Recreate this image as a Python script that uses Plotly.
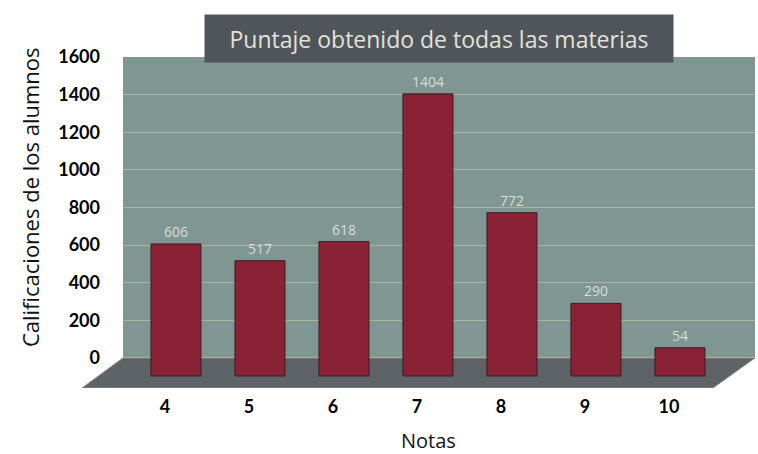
import plotly.graph_objects as go

# ---- data ----
notas = ["4", "5", "6", "7", "8", "9", "10"]
calificaciones = [606, 517, 618, 1404, 772, 290, 54]
y_ticks = [0, 200, 400, 600, 800, 1000, 1200, 1400, 1600]

title_text = "Puntaje obtenido de todas las materias"
y_title = "Calificaciones de los alumnos"
x_title = "Notas"

# ---- style constants ----
FLOOR = -160          # depth of the pseudo-3D floor (axis units)
FOOT = 96             # how far bars reach into the floor
WALL = "#7f9692"
FLOOR_C = "#5e6367"
BAR = "#8a2236"

fig = go.Figure()
fig.add_trace(go.Bar(
    x=notas,
    y=[v + FOOT for v in calificaciones],
    base=[-FOOT] * len(notas),
    width=0.595,
    offset=-0.167,
    marker=dict(color=BAR, line=dict(color="#3a1c22", width=1)),
    text=[str(v) for v in calificaciones],
    textposition="outside",
    textfont=dict(family="Open Sans", size=14, color="#d9ddd6"),
    cliponaxis=False,
    hovertext=[str(v) for v in calificaciones],
    hoverinfo="x+text",
))

shapes = [
    # back wall
    dict(type="rect", xref="paper", yref="y", x0=0, x1=1, y0=0, y1=y_ticks[-1],
         fillcolor=WALL, line=dict(width=0), layer="below"),
    # floor
    dict(type="path", xref="paper", yref="y",
         path=f"M 0 0 L 1 0 L 0.9335 {FLOOR} L -0.0649 {FLOOR} Z",
         fillcolor=FLOOR_C, line=dict(color="#8a8a80", width=1), layer="below"),
]

annotations = [
    dict(text=title_text, xref="paper", yref="paper", x=0.5, y=1.0574,
         xanchor="center", yanchor="middle", showarrow=False,
         font=dict(family="Open Sans", size=23, color="#e2e2d8"),
         bgcolor="#50555b", width=464, height=43, borderpad=2),
    dict(text=y_title, xref="paper", yref="paper", x=-0.147, y=0.577,
         xanchor="center", yanchor="middle", textangle=-90, showarrow=False,
         font=dict(family="Open Sans", size=22, color="#111111")),
    dict(text=x_title, xref="paper", yref="paper", x=0.4826, y=-0.160,
         xanchor="center", yanchor="middle", showarrow=False,
         font=dict(family="Open Sans", size=20, color="#111111")),
]

fig.update_layout(
    width=758, height=454,
    margin=dict(l=123, r=3, t=57, b=66),
    paper_bgcolor="white",
    plot_bgcolor="white",
    showlegend=False,
    shapes=shapes,
    annotations=annotations,
    bargap=0.4,
)
fig.update_xaxes(
    type="category", range=[-0.5, 7.024],
    showgrid=False, showline=False, zeroline=False, ticks="",
    tickfont=dict(family="Lato", size=18, color="black", weight="bold"),
    ticklabelstandoff=6,
)
fig.update_yaxes(
    range=[FLOOR, y_ticks[-1]],
    tickvals=y_ticks, ticktext=[str(t) for t in y_ticks],
    showgrid=True, gridcolor="rgba(225,222,175,0.45)", gridwidth=1,
    zeroline=False, showline=False, ticks="",
    tickfont=dict(family="Lato", size=18, color="black", weight="bold"),
    ticklabelstandoff=22,
)

fig.write_html("out.html")
